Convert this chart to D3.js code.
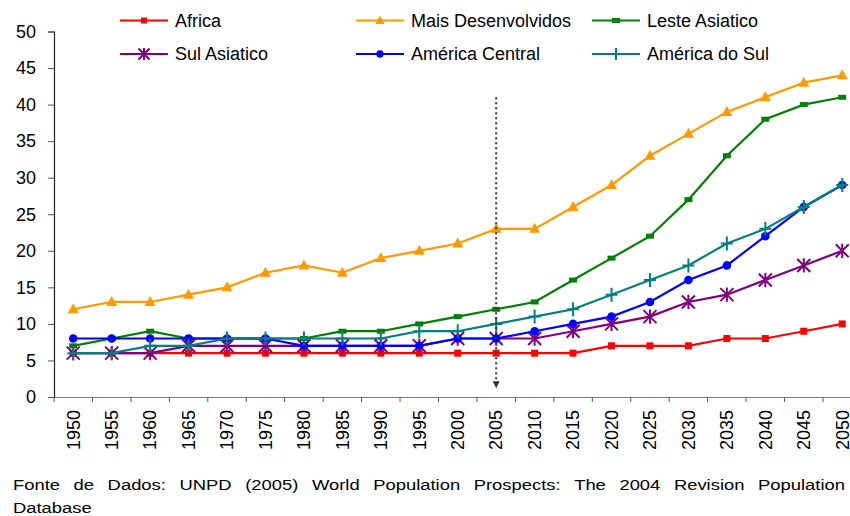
<!DOCTYPE html>
<html>
<head>
<meta charset="utf-8">
<script src="https://cdn.jsdelivr.net/npm/d3@7"></script>
<style>
html,body{margin:0;padding:0;background:#fff;}
svg{display:block;font-family:"Liberation Sans",Arial,sans-serif;}
</style>
</head>
<body>
<svg id="chart" width="850" height="516"></svg>
<script>
const years = ["1950","1955","1960","1965","1970","1975","1980","1985","1990","1995","2000","2005","2010","2015","2020","2025","2030","2035","2040","2045","2050"];
const seriesNames = ["Africa","Mais Desenvolvidos","Leste Asiatico","Sul Asiatico","América Central","América do Sul"];
const africa      = [6,6,6,6,6,6,6,6,6,6,6,6,6,6,7,7,7,8,8,9,10];
const maisDesenv  = [12,13,13,14,15,17,18,17,19,20,21,23,23,26,29,33,36,39,41,43,44];
const lesteAsia   = [7,8,9,8,8,8,8,9,9,10,11,12,13,16,19,22,27,33,38,40,41];
const sulAsia     = [6,6,6,7,7,7,7,7,7,7,8,8,8,9,10,11,13,14,16,18,20];
const amCentral   = [8,8,8,8,8,8,7,7,7,7,8,8,9,10,11,13,16,18,22,26,29];
const amSul       = [6,6,7,7,8,8,8,8,8,9,9,10,11,12,14,16,18,21,23,26,29];
const yTicks = [0,5,10,15,20,25,30,35,40,45,50];
const markerYear = "2005";
const markerRange = [41, 1.2];
const captionLine1 = "Fonte de Dados: UNPD (2005) World Population Prospects: The 2004 Revision Population";
const captionLine2 = "Database";

const colors = ["#FF0000","#FF9900","#008000","#800080","#0000FF","#008080"];
const shapes = ["square","triangle","dash","asterisk","circle","plus"];
const allValues = [africa, maisDesenv, lesteAsia, sulAsia, amCentral, amSul];

const svg = d3.select("#chart");
const x = d3.scaleBand().domain(years).range([54, 54 + 21*38.45]).padding(0);
const y = d3.scaleLinear().domain([0,50]).range([397, 31.5]);
const cx = d => x(d) + x.bandwidth()/2;

// Y axis
const yAxis = d3.axisLeft(y).tickValues(yTicks).tickSize(6).tickPadding(12);
const yg = svg.append("g").attr("transform","translate(54,0)").call(yAxis);
yg.select(".domain").attr("stroke","#222").attr("stroke-width",1.2);
yg.selectAll(".tick line").attr("stroke","#555");
yg.selectAll(".tick text").attr("font-size",18).attr("fill","#000").attr("font-family","Liberation Sans, Arial, sans-serif");

// X axis
const xAxis = d3.axisBottom(x).tickSize(0).tickPadding(0);
const xg = svg.append("g").attr("transform","translate(0,397)").call(xAxis);
xg.select(".domain").attr("stroke","#808080").attr("stroke-width",1.2);
xg.selectAll(".tick text")
  .attr("font-size",18).attr("fill","#000").attr("font-family","Liberation Sans, Arial, sans-serif")
  .attr("text-anchor","end")
  .attr("transform","translate(0,13) rotate(-90)")
  .attr("dx",0).attr("dy","0.35em").attr("y",0).attr("x",0);
// boundary ticks
const bounds = years.map(d => x(d)).concat([x(years[years.length-1]) + x.bandwidth()]);
svg.append("g").selectAll("line").data(bounds).join("line")
  .attr("x1",d=>d).attr("x2",d=>d).attr("y1",397).attr("y2",402)
  .attr("stroke","#555").attr("stroke-width",1);

// Marker drawing
function drawMarker(g, shape, color, px, py, legend) {
  const s = legend ? 0.85 : 1;
  if (shape === "square") {
    const w = 7*s;
    g.append("rect").attr("x",px-w/2).attr("y",py-w/2).attr("width",w).attr("height",w).attr("fill",color);
  } else if (shape === "triangle") {
    const w = 11*s, h = 10*s;
    g.append("path").attr("d",`M${px},${py-h*0.6}L${px+w/2},${py+h*0.4}L${px-w/2},${py+h*0.4}Z`).attr("fill",color);
  } else if (shape === "dash") {
    g.append("rect").attr("x",px-4).attr("y",py-2.5).attr("width",8).attr("height",5).attr("fill",color);
  } else if (shape === "circle") {
    g.append("circle").attr("cx",px).attr("cy",py).attr("r",4.3*s).attr("fill",color);
  } else if (shape === "asterisk") {
    const r = 6.5*s;
    const d = `M${px-r},${py-r}L${px+r},${py+r}M${px-r},${py+r}L${px+r},${py-r}M${px},${py-r*1.1}L${px},${py+r*1.1}`;
    g.append("path").attr("d",d).attr("stroke",color).attr("stroke-width",2).attr("fill","none");
  } else if (shape === "plus") {
    const d = `M${px-6*s},${py}L${px+6*s},${py}M${px},${py-7*s}L${px},${py+7*s}`;
    g.append("path").attr("d",d).attr("stroke",color).attr("stroke-width",2).attr("fill","none");
  }
}

// Series
const line = d3.line().x((d,i)=>cx(years[i])).y(d=>y(d));
allValues.forEach((vals, si) => {
  const g = svg.append("g");
  g.append("path").attr("d", line(vals)).attr("fill","none").attr("stroke",colors[si]).attr("stroke-width",2.2);
  vals.forEach((v,i) => drawMarker(g, shapes[si], colors[si], cx(years[i]), y(v), false));
});

// Dotted vertical marker line with arrow
const mx = cx(markerYear);
svg.append("line").attr("x1",mx).attr("x2",mx).attr("y1",y(markerRange[0])).attr("y2",y(markerRange[1])-5)
  .attr("stroke","#333").attr("stroke-width",2).attr("stroke-dasharray","2,3");
const tipY = y(markerRange[1]);
svg.append("path").attr("d",`M${mx-3.5},${tipY-7}L${mx+3.5},${tipY-7}L${mx},${tipY}Z`).attr("fill","#333");

// Legend
const legCols = [120, 356, 592];
const legRows = [20.5, 54];
seriesNames.forEach((name, i) => {
  const col = i % 3, row = Math.floor(i/3);
  const lx = legCols[col], ly = legRows[row];
  const g = svg.append("g");
  g.append("line").attr("x1",lx).attr("x2",lx+48).attr("y1",ly).attr("y2",ly).attr("stroke",colors[i]).attr("stroke-width",2.2);
  drawMarker(g, shapes[i], colors[i], lx+24, ly, true);
  g.append("text").attr("x",lx+55).attr("y",ly).attr("dy","0.35em").attr("font-size",18).attr("fill","#000").text(name);
});

// Caption (justified first line, horizontally stretched font)
const capFont = 14.5, sx = 1.27;
const words = captionLine1.split(" ");
const capG = svg.append("g").attr("font-size",capFont).attr("fill","#000").attr("transform",`scale(${sx},1)`);
const tmp = words.map(w => capG.append("text").attr("y",490.5).text(w));
const widths = tmp.map(t => t.node().getComputedTextLength());
const total = d3.sum(widths);
const left = 13/sx, right = 845/sx;
const gap = (right - left - total) / (words.length - 1);
let cur = left;
tmp.forEach((t,i) => { t.attr("x", cur); cur += widths[i] + gap; });
capG.append("text").attr("x",left).attr("y",513).text(captionLine2);
</script>
</body>
</html>
